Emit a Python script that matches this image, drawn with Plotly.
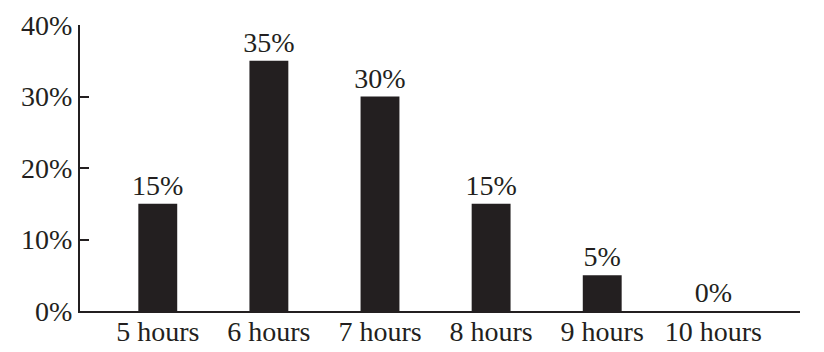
import plotly.graph_objects as go

categories = ["5 hours", "6 hours", "7 hours", "8 hours", "9 hours", "10 hours"]
percentages = [15, 35, 30, 15, 5, 0]
bar_labels = ["15%", "35%", "30%", "15%", "5%", "0%"]
y_ticks = [0, 10, 20, 30, 40]
y_tick_labels = ["0%", "10%", "20%", "30%", "40%"]

FONT = "Liberation Serif, Times New Roman, serif"
INK = "#231f20"
FS = 28

fig = go.Figure(
    go.Bar(
        x=categories,
        y=percentages,
        text=bar_labels,
        textposition="outside",
        constraintext="none",
        textfont=dict(family=FONT, size=FS, color=INK),
        outsidetextfont=dict(family=FONT, size=FS, color=INK),
        marker=dict(color=INK, line=dict(width=0)),
        width=0.35,
        cliponaxis=False,
    )
)

fig.update_layout(
    width=824,
    height=352,
    margin=dict(l=80, r=24, t=25, b=41, autoexpand=False),
    paper_bgcolor="white",
    plot_bgcolor="white",
    showlegend=False,
    font=dict(family=FONT, size=FS, color=INK),
    xaxis=dict(
        type="category",
        range=[-0.7, 5.78],
        automargin=False,
        showline=True,
        linecolor=INK,
        linewidth=2,
        ticks="",
        ticklabelstandoff=-6,
        showgrid=False,
        zeroline=False,
        tickfont=dict(family=FONT, size=FS, color=INK),
    ),
    yaxis=dict(
        range=[0, 40],
        automargin=False,
        tickvals=y_ticks,
        ticktext=y_tick_labels,
        showline=True,
        linecolor=INK,
        linewidth=2,
        ticks="inside",
        ticklen=9,
        tickwidth=2,
        tickcolor=INK,
        showgrid=False,
        zeroline=False,
        tickfont=dict(family=FONT, size=FS, color=INK),
    ),
)

fig.write_html("out.html")
